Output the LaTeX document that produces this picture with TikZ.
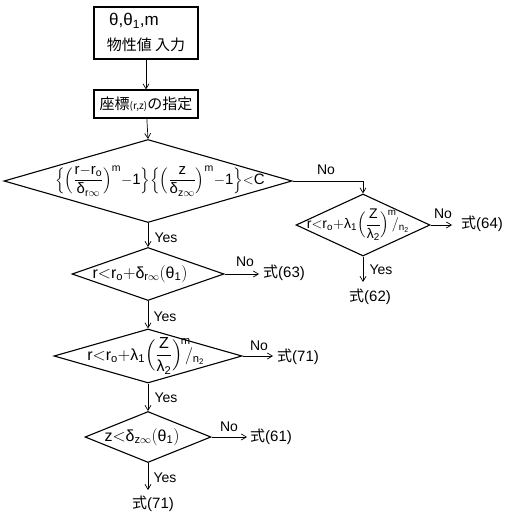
\documentclass[tikz,border=0pt]{standalone}
\usepackage{amsmath}
\usepackage{fontspec}
\setmainfont{Liberation Sans}
\newfontfamily\jp{Noto Sans CJK JP}
\usetikzlibrary{shapes.geometric,arrows.meta}
\newcommand{\tx}[1]{\text{#1}}
\tikzset{
  boxnode/.style={draw,line width=1.1pt,rectangle,inner sep=0pt,minimum width=104pt},
  decision/.style={draw,line width=1.1pt,diamond,inner sep=0pt},
  conn/.style={line width=0.7pt,-{Straight Barb[length=5pt,width=6pt]}},
  lbl/.style={inner sep=0pt,font=\fontsize{14}{15}\selectfont},
  eqtext/.style={inner sep=0pt,font=\fontsize{16}{17}\selectfont},
  term/.style={inner sep=0pt,font=\fontsize{15}{16}\selectfont}
}
\begin{document}
\begin{tikzpicture}[x=1pt,y=-1pt]
\useasboundingbox (0,0) rectangle (514,516);
% boxes
\node[boxnode,minimum height=52pt] (in1) at (146,33) {};
\node[lbl,font=\fontsize{17}{18}\selectfont] (in1a) at (134,21) {θ,θ\textsubscript{1},m};
\node[lbl] (in1b) at (146,45) {\jp\fontsize{15}{16}\selectfont 物性値 入力};
\node[boxnode,minimum height=28pt] (in2) at (146,104) {\jp\fontsize{15}{16}\selectfont 座標{\fontsize{10}{11}\selectfont (r,z)}の指定};
% diamonds
\node[decision,minimum width=288pt,minimum height=83pt] (d1) at (148,181) {};
\node[eqtext,font=\fontsize{15}{16}\selectfont] (t1) at (160,181) {$\Bigl\{\Bigl(\dfrac{\tx{r}{-}\tx{r}_{\tx{o}}}{\tx{δ}_{\tx{r}\infty}}\Bigr)^{\tx{m}}{-}\tx{1}\Bigr\}\Bigl\{\Bigl(\dfrac{\tx{z}}{\tx{δ}_{\tx{z}\infty}}\Bigr)^{\tx{m}}{-}\tx{1}\Bigr\}{<}\tx{C}$};
\node[decision,minimum width=152pt,minimum height=53pt] (d2) at (148,274) {};
\node[eqtext] (t2) at (140,274) {$\tx{r}{<}\tx{r}_{\tx{o}}{+}\tx{δ}_{\tx{r}\infty}(\tx{θ}_{\tx{1}})$};
\node[decision,minimum width=188pt,minimum height=54pt] (d3) at (148,356) {};
\node[eqtext] (t3) at (146,356) {$\tx{r}{<}\tx{r}_{\tx{o}}{+}\tx{λ}_{\tx{1}}\Bigl(\dfrac{\tx{Z}}{\tx{λ}_{\tx{2}}}\Bigr)^{\!\tx{m}}\!\!/_{\tx{n}_{\tx{2}}}$};
\node[decision,minimum width=126pt,minimum height=51pt] (d4) at (148,437) {};
\node[eqtext] (t4) at (142,437) {$\tx{z}{<}\tx{δ}_{\tx{z}\infty}(\tx{θ}_{\tx{1}})$};
\node[decision,minimum width=134pt,minimum height=62pt] (d5) at (363,225) {};
\node[eqtext,font=\fontsize{14}{15}\selectfont] (t5) at (358,225) {$\tx{r}{<}\tx{r}_{\tx{o}}{+}\tx{λ}_{\tx{1}}\Bigl(\dfrac{\tx{Z}}{\tx{λ}_{\tx{2}}}\Bigr)^{\!\tx{m}}\!\!/_{\tx{n}_{\tx{2}}}$};
% terminals
\coordinate (e2) at (259,274);
\coordinate (e3) at (273,356);
\coordinate (e4) at (247,437);
\coordinate (e5) at (452,225);
\coordinate (e5s) at (363,282);
\coordinate (e4s) at (148,490);
\node[term,anchor=west] (f63) at (263,273) {{\jp 式}(63)};
\node[term,anchor=west] (f71a) at (277,357) {{\jp 式}(71)};
\node[term,anchor=west] (f61) at (250,437) {{\jp 式}(61)};
\node[term,anchor=west] (f64) at (461,224) {{\jp 式}(64)};
\node[term] (f62) at (370,297) {{\jp 式}(62)};
\node[term] (f71b) at (153,504) {{\jp 式}(71)};
% connectors
\draw[conn] (in1) -- (in2);
\draw[conn] (in2) -- (d1.north);
\draw[conn] (d1.south) -- (d2.north);
\draw[conn] (d2.south) -- (d3.north);
\draw[conn] (d3.south) -- (d4.north);
\draw[conn] (d4.south) -- (e4s);
\draw[conn] (d1.east) -| (d5.north);
\draw[conn] (d2.east) -- (e2);
\draw[conn] (d3.east) -- (e3);
\draw[conn] (d4.east) -- (e4);
\draw[conn] (d5.east) -- (e5);
\draw[conn] (d5.south) -- (e5s);
% Yes / No labels
\node[lbl] (y1) at (166,238) {Yes};
\node[lbl] (y2) at (165,317) {Yes};
\node[lbl] (y3) at (166,398) {Yes};
\node[lbl] (y4) at (165,478) {Yes};
\node[lbl] (y5) at (381,270) {Yes};
\node[lbl] (n1) at (326,170) {No};
\node[lbl] (n2) at (245,262) {No};
\node[lbl] (n3) at (259,346) {No};
\node[lbl] (n4) at (229,427) {No};
\node[lbl] (n5) at (443,214) {No};
\end{tikzpicture}
\end{document}
